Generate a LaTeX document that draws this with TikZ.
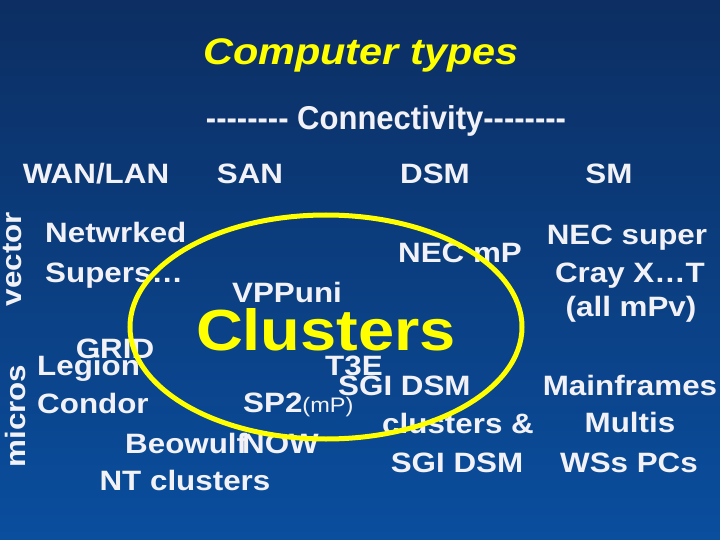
\documentclass[tikz,border=0pt]{standalone}
\usepackage{fontspec}
\setmainfont[FakeStretch=1.12]{Liberation Sans}
\newfontfamily\narrowfont[FakeStretch=0.94]{Liberation Sans}
\usepackage{tikz}
\usetikzlibrary{positioning}
\definecolor{bgtop}{RGB}{12,46,98}
\definecolor{bgbot}{RGB}{10,78,158}
\definecolor{txtwhite}{RGB}{242,242,246}
\definecolor{myyellow}{RGB}{255,255,0}
\newcommand\hy{\mbox{-}}
\newcommand\hyrow{\hy\hy\hy\hy\hy\hy\hy\hy}
\tikzset{
  lbl/.style={text=txtwhite, inner sep=0pt, anchor=base,
    font=\bfseries\fontsize{28}{30}\selectfont},
  lblw/.style={lbl, anchor=base west},
  side/.style={lbl, rotate=90},
  ttl/.style={text=myyellow, inner sep=0pt, anchor=base,
    font=\bfseries\itshape\fontsize{37}{40}\selectfont},
  bigword/.style={text=myyellow, inner sep=0pt, anchor=base,
    font=\bfseries\fontsize{58}{60}\selectfont},
  ring/.style={draw=myyellow, line width=5pt}
}

\begin{document}
\begin{tikzpicture}[x=1pt, y=-1pt]
  % Background
  \shade[top color=bgtop, bottom color=bgbot] (0,0) rectangle (720,540);
  \useasboundingbox (0,0) rectangle (720,540);

  % Title and column heads
  \node[ttl] (title) at (361,65) {Computer types};
  \node[lbl, font=\narrowfont\bfseries\fontsize{33}{35}\selectfont]
    (conn) at (386,130) {\hyrow\ Connectivity\hyrow};
  \node[lbl] (wan) at (96,184) {WAN/LAN};
  \node[lbl] (san) at (250,184) {SAN};
  \node[lbl] (dsm) at (435,184) {DSM};
  \node[lbl] (sm) at (609,184) {SM};

  % Row heads
  \node[side] (vector) at (21,259) {vector};
  \node[side] (micros) at (25,416) {micros};

  % WAN/LAN and SAN
  \node[lblw] (netwrked) at (45,243) {Netwrked};
  \node[lblw] (supers) at (45,282) {Supers…};
  \node[lbl] (vppuni) at (287,302) {VPPuni};
  \node[lbl] (grid) at (115,358) {GRID};
  \node[lblw] (legion) at (37,375) {Legion};
  \node[lblw] (condor) at (37,413) {Condor};
  \node[lblw] (sp2) at (243,412) {SP2{\mdseries\fontsize{21}{23}\selectfont(mP)}};
  \node[lblw] (beowulf) at (125,453) {Beowulf};
  \node[lblw] (now) at (242,453) {NOW};
  \node[lbl] (ntclus) at (185,490) {NT clusters};

  % DSM
  \node[lbl] (necmp) at (460,262) {NEC mP};
  \node[lblw] (t3e) at (325,375) {T3E};
  \node[lblw] (sgidsm) at (338,395) {SGI DSM};
  \node[lbl] (clus) at (458,433) {clusters \&};
  \node[lbl] (sgidsmb) at (457,472) {SGI DSM};

  % SM
  \node[lbl] (necsuper) at (627,244) {NEC super};
  \node[lbl] (cray) at (630,282) {Cray X…T};
  \node[lbl] (allmpv) at (631,316) {(all mPv)};
  \node[lbl] (mainfr) at (630,395) {Mainframes};
  \node[lbl] (multis) at (630,432) {Multis};
  \node[lbl] (wss) at (629,472) {WSs PCs};

  % Clusters
  \node[bigword] (clusters) at (326,350) {Clusters};
  \draw[ring] (326,327) ellipse [x radius=196, y radius=112];
\end{tikzpicture}
\end{document}
